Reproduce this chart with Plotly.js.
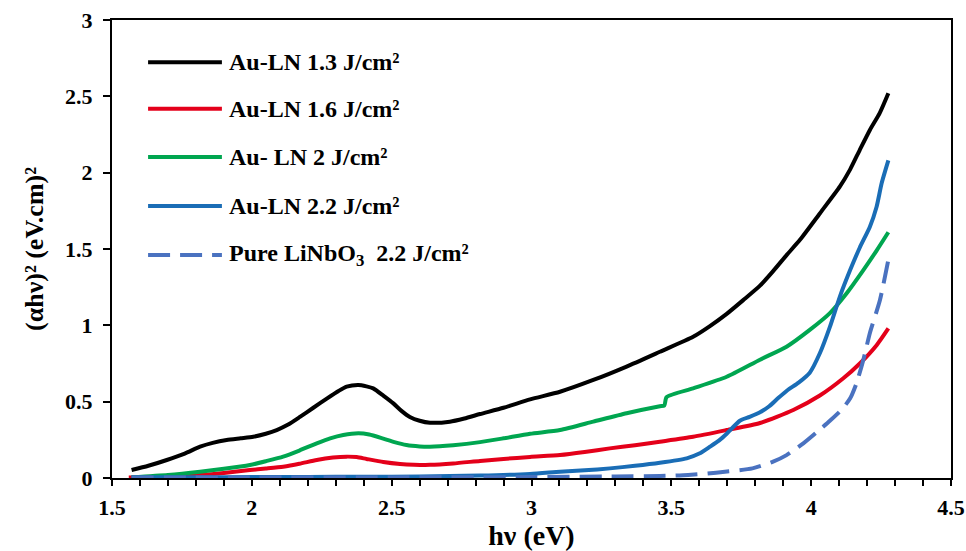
<!DOCTYPE html>
<html>
<head>
<meta charset="utf-8">
<script src="https://cdn.plot.ly/plotly-3.0.1.min.js"></script>
<style>
html,body{margin:0;padding:0;background:#fff;}
#chart{width:966px;height:551px;}
</style>
</head>
<body>
<div id="chart"></div>
<script>
// ---- data ----
const seriesNames = ["Au-LN 1.3 J/cm²", "Au-LN 1.6 J/cm²", "Au- LN 2 J/cm²", "Au-LN 2.2 J/cm²", "Pure LiNbO<sub>3</sub>\u00a0 2.2 J/cm²"];

const x_13 = [1.57,1.63,1.696,1.76,1.815,1.86,1.91,1.96,2.005,2.05,2.089,2.13,2.172,2.22,2.268,2.31,2.339,2.381,2.41,2.434,2.47,2.506,2.535,2.565,2.60,2.637,2.708,2.76,2.816,2.9,2.995,3.102,3.221,3.34,3.459,3.578,3.638,3.698,3.757,3.817,3.864,3.912,3.96,4.031,4.103,4.139,4.174,4.21,4.245,4.276];
const y_13 = [0.052,0.08,0.118,0.16,0.205,0.23,0.249,0.26,0.27,0.29,0.314,0.35,0.40,0.46,0.52,0.57,0.598,0.609,0.60,0.587,0.54,0.489,0.44,0.40,0.375,0.362,0.369,0.39,0.419,0.46,0.515,0.565,0.642,0.73,0.827,0.925,0.995,1.075,1.165,1.26,1.355,1.46,1.56,1.733,1.91,2.02,2.15,2.28,2.39,2.52];

const x_16 = [1.56,1.65,1.74,1.815,1.9,1.993,2.05,2.112,2.17,2.232,2.29,2.339,2.375,2.41,2.47,2.53,2.58,2.637,2.72,2.816,2.9,2.995,3.102,3.19,3.28,3.37,3.459,3.578,3.698,3.817,3.936,4.031,4.115,4.174,4.234,4.276];
const y_16 = [0.003,0.008,0.013,0.02,0.033,0.052,0.062,0.074,0.093,0.118,0.134,0.14,0.137,0.125,0.105,0.092,0.087,0.086,0.095,0.112,0.125,0.138,0.15,0.17,0.194,0.215,0.238,0.27,0.314,0.36,0.445,0.54,0.653,0.75,0.87,0.98];

const x_20 = [1.57,1.7,1.815,1.9,1.993,2.05,2.112,2.17,2.232,2.28,2.327,2.381,2.42,2.47,2.51,2.553,2.6,2.637,2.72,2.816,2.9,2.995,3.102,3.221,3.34,3.459,3.475,3.483,3.578,3.698,3.817,3.912,3.995,4.067,4.127,4.186,4.234,4.276];
const y_20 = [0.005,0.02,0.041,0.06,0.085,0.11,0.14,0.18,0.227,0.26,0.282,0.293,0.285,0.258,0.235,0.216,0.207,0.205,0.215,0.235,0.26,0.29,0.314,0.369,0.424,0.47,0.475,0.53,0.587,0.663,0.775,0.86,0.97,1.08,1.21,1.36,1.49,1.61];

const x_22 = [1.57,1.8,2.0,2.2,2.4,2.6,2.816,2.995,3.102,3.19,3.28,3.37,3.459,3.555,3.6,3.638,3.67,3.698,3.745,3.78,3.817,3.85,3.88,3.915,3.955,3.995,4.031,4.067,4.103,4.139,4.174,4.21,4.234,4.252,4.276];
const y_22 = [0.005,0.005,0.006,0.007,0.008,0.01,0.016,0.027,0.041,0.05,0.063,0.08,0.10,0.129,0.16,0.205,0.245,0.29,0.375,0.40,0.43,0.47,0.52,0.575,0.625,0.69,0.817,0.99,1.19,1.36,1.51,1.646,1.777,1.93,2.08];

const x_pure = [1.57,2.0,2.5,3.0,3.3,3.459,3.56,3.66,3.79,3.864,3.912,3.972,4.02,4.067,4.11,4.139,4.162,4.186,4.21,4.246,4.276];
const y_pure = [0.003,0.003,0.004,0.006,0.01,0.013,0.02,0.035,0.063,0.107,0.15,0.227,0.30,0.375,0.45,0.52,0.62,0.77,0.95,1.166,1.43];

const xTickVals = [1.5,2,2.5,3,3.5,4,4.5];
const yTickVals = [0,0.5,1,1.5,2,2.5,3];

// ---- styling ----
const colors = ["#000000", "#E4001A", "#00A650", "#1A6DB6", "#4A72C0"];
const dashes = ["solid","solid","solid","solid","22px,10px"];
const xs = [x_13, x_16, x_20, x_22, x_pure];
const ys = [y_13, y_16, y_20, y_22, y_pure];
const FONT = "'Times New Roman', 'Liberation Serif', serif";

const traces = xs.map((x, i) => ({
  x: x, y: ys[i], type: "scatter", mode: "lines", name: seriesNames[i],
  line: {color: colors[i], width: 4, dash: dashes[i], shape: "spline", smoothing: 0.6},
  showlegend: false, hoverinfo: "skip"
}));

// custom legend (long sample lines like the reference)
const legY = [0.908, 0.806, 0.701, 0.594, 0.487];
const shapes = [];
const annotations = [];
seriesNames.forEach((n, i) => {
  shapes.push({type: "line", xref: "paper", yref: "paper", x0: 0.043, x1: 0.131, y0: legY[i], y1: legY[i],
    line: {color: colors[i], width: 4, dash: i === 4 ? "22px,10px" : "solid"}});
  annotations.push({xref: "paper", yref: "paper", x: 0.137, y: legY[i], xanchor: "left", yanchor: "middle",
    text: n, showarrow: false, font: {family: FONT, size: 24, color: "#000", weight: "bold"}});
});

const layout = {
  width: 966, height: 551,
  margin: {l: 112, r: 15, t: 20, b: 73},
  paper_bgcolor: "#fff", plot_bgcolor: "#fff",
  font: {family: FONT, color: "#000", weight: "bold"},
  xaxis: {
    range: [1.5, 4.5], tickvals: xTickVals, ticktext: xTickVals.map(String),
    showgrid: false, zeroline: false, showline: true, linecolor: "#000", linewidth: 2, mirror: true,
    ticks: "outside", ticklen: 6, tickwidth: 2, tickcolor: "#000",
    minor: {dtick: 0.1, ticks: "outside", ticklen: 6, tickwidth: 2, tickcolor: "#000", showgrid: false},
    tickfont: {family: FONT, size: 22, color: "#000", weight: "bold"},
    ticklabelstandoff: 3,
    title: {text: "hν (eV)", font: {family: FONT, size: 28, color: "#000", weight: "bold"}, standoff: 9}
  },
  yaxis: {
    range: [0, 3], tickvals: yTickVals, ticktext: yTickVals.map(String),
    showgrid: false, zeroline: false, showline: true, linecolor: "#000", linewidth: 2, mirror: true,
    ticks: "outside", ticklen: 7, tickwidth: 2, tickcolor: "#000",
    tickfont: {family: FONT, size: 22, color: "#000", weight: "bold"},
    ticklabelstandoff: 6,
    title: {text: "(αhν)² (eV.cm)²", font: {family: FONT, size: 26, color: "#000", weight: "bold"}, standoff: 14}
  },
  shapes: shapes,
  annotations: annotations
};

Plotly.newPlot("chart", traces, layout, {displayModeBar: false, staticPlot: true});
</script>
</body>
</html>
